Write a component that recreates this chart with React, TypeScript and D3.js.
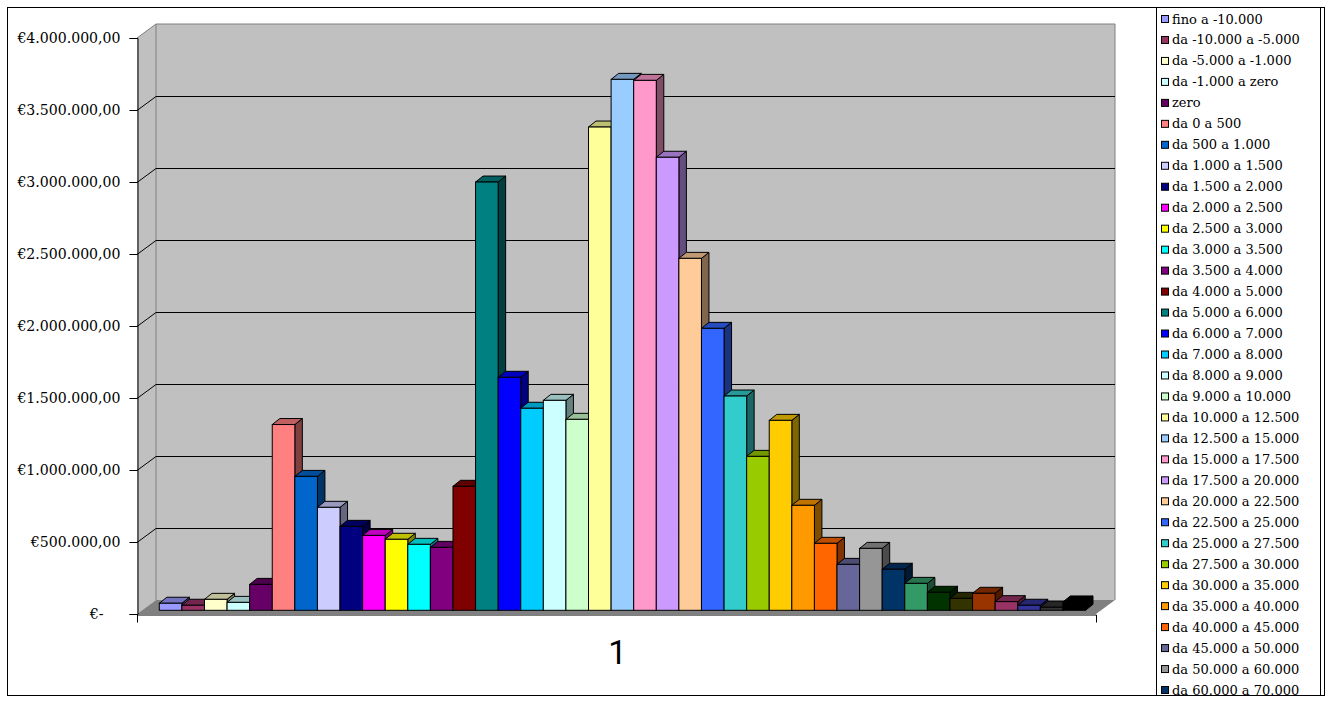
import React, { useEffect, useRef } from 'react';
import * as d3 from 'd3';

const WIDTH = 1332;
const HEIGHT = 702;

// Legend order. The legend is cut off after "da 60.000 a 70.000", so the last eight bars have no readable name.
const legendNames = [
  'fino a -10.000', 'da -10.000 a -5.000', 'da -5.000 a -1.000', 'da -1.000 a zero', 'zero',
  'da 0 a 500', 'da 500 a 1.000', 'da 1.000 a 1.500', 'da 1.500 a 2.000', 'da 2.000 a 2.500',
  'da 2.500 a 3.000', 'da 3.000 a 3.500', 'da 3.500 a 4.000', 'da 4.000 a 5.000', 'da 5.000 a 6.000',
  'da 6.000 a 7.000', 'da 7.000 a 8.000', 'da 8.000 a 9.000', 'da 9.000 a 10.000', 'da 10.000 a 12.500',
  'da 12.500 a 15.000', 'da 15.000 a 17.500', 'da 17.500 a 20.000', 'da 20.000 a 22.500', 'da 22.500 a 25.000',
  'da 25.000 a 27.500', 'da 27.500 a 30.000', 'da 30.000 a 35.000', 'da 35.000 a 40.000', 'da 40.000 a 45.000',
  'da 45.000 a 50.000', 'da 50.000 a 60.000', 'da 60.000 a 70.000',
];

const values = [
  49000, 35000, 76000, 55000, 180000, 1290000, 930000, 715000, 583000, 520000,
  493000, 458000, 437000, 861000, 2974000, 1618000, 1403000, 1458000, 1326000, 3356000,
  3687000, 3680000, 3146000, 2444000, 1958000, 1488000, 1069000, 1319000, 729000, 465000,
  319000, 430000, 285000, 187000, 125000, 83000, 118000, 60000, 35000, 21000, 58000,
];

const colors = [
  '#9999FF', '#993366', '#FFFFCC', '#CCFFFF', '#660066', '#FF8080', '#0066CC', '#CCCCFF', '#000080',
  '#FF00FF', '#FFFF00', '#00FFFF', '#800080', '#800000', '#008080', '#0000FF', '#00CCFF', '#CCFFFF',
  '#CCFFCC', '#FFFF99', '#99CCFF', '#FF99CC', '#CC99FF', '#FFCC99', '#3366FF', '#33CCCC', '#99CC00',
  '#FFCC00', '#FF9900', '#FF6600', '#666699', '#969696', '#003366', '#339966', '#003300', '#333300',
  '#993300', '#993366', '#333399', '#333333', '#000000',
];

const yTicks = [0, 500000, 1000000, 1500000, 2000000, 2500000, 3000000, 3500000, 4000000];
const xLabels = ['1'];

const shade = (c: string, k: number) => {
  const rgb = d3.rgb(c);
  return d3.rgb(rgb.r * k, rgb.g * k, rgb.b * k).formatHex();
};

const formatEuro = (v: number) => {
  if (v === 0) return '€-';
  return '€' + d3.format(',')(v).replace(/,/g, '.') + ',00';
};

export default function App() {
  const svgRef = useRef<SVGSVGElement>(null);

  useEffect(() => {
    if (!svgRef.current) return;
    const svg = d3.select(svgRef.current);
    svg.selectAll('*').remove();

    const frontLeft = 137;
    const frontRight = 1096;
    const wallDx = 19;
    const wallDy = 14;
    const barDx = 7.5;
    const barDy = 6;

    const y = d3.scaleLinear().domain([0, 4000000]).range([614, 38]);
    const barY = d3.scaleLinear().domain([0, 4000000]).range([610.3, 34.3]);
    const x = d3.scaleBand<number>().domain(d3.range(values.length)).range([159.3, 1085.5]);
    const xAxisScale = d3.scaleBand<string>().domain(xLabels).range([frontLeft, frontRight]);
    const pts = (p: number[][]) => p.map(d => d.join(',')).join(' ');

    // outer frame
    svg.append('rect')
      .attr('x', 7.5).attr('y', 7.5)
      .attr('width', 1317).attr('height', 688)
      .attr('fill', '#fff').attr('stroke', '#000');

    // walls and floor
    svg.append('polygon')
      .attr('points', pts([[frontLeft, y(4000000)], [frontLeft + wallDx, y(4000000) - wallDy], [frontRight + wallDx, y(4000000) - wallDy],
        [frontRight + wallDx, y(0) - wallDy], [frontLeft + wallDx, y(0) - wallDy], [frontLeft, y(0)]]))
      .attr('fill', '#C0C0C0');
    svg.append('polygon')
      .attr('points', pts([[frontLeft, y(0)], [frontLeft + wallDx, y(0) - wallDy], [frontRight + wallDx, y(0) - wallDy], [frontRight, y(0)]]))
      .attr('fill', '#808080');
    svg.append('polyline')
      .attr('points', pts([[frontLeft, y(4000000)], [frontLeft + wallDx, y(4000000) - wallDy], [frontRight + wallDx, y(4000000) - wallDy], [frontRight + wallDx, y(0) - wallDy]]))
      .attr('fill', 'none').attr('stroke', '#808080');
    svg.append('line')
      .attr('x1', frontLeft + wallDx).attr('x2', frontLeft + wallDx)
      .attr('y1', y(4000000) - wallDy).attr('y2', y(0) - wallDy)
      .attr('stroke', '#808080');

    // gridlines
    yTicks.filter(t => t > 0 && t < 4000000).forEach(t => {
      svg.append('polyline')
        .attr('points', pts([[frontLeft, y(t) + 0.5], [frontLeft + wallDx, y(t) - wallDy + 0.5], [frontRight + wallDx, y(t) - wallDy + 0.5]]))
        .attr('fill', 'none').attr('stroke', '#000');
    });

    // bars, left to right so each one covers the side of the previous
    const bars = svg.append('g').attr('stroke', '#000').attr('stroke-width', 1).attr('stroke-linejoin', 'miter');
    values.forEach((v, i) => {
      const x0 = x(i) as number;
      const w = x.bandwidth();
      const top = barY(v);
      const base = barY(0);
      const bar = bars.append('g');
      bar.append('polygon')
        .attr('points', pts([[x0 + w, top], [x0 + w + barDx, top - barDy], [x0 + w + barDx, base - barDy], [x0 + w, base]]))
        .attr('fill', shade(colors[i], 0.5));
      bar.append('polygon')
        .attr('points', pts([[x0, top], [x0 + barDx, top - barDy], [x0 + w + barDx, top - barDy], [x0 + w, top]]))
        .attr('fill', shade(colors[i], 0.75));
      bar.append('rect')
        .attr('x', x0).attr('y', top)
        .attr('width', w).attr('height', base - top)
        .attr('fill', colors[i]);
    });

    // axes
    const yAxis = svg.append('g')
      .attr('transform', `translate(${frontLeft + 0.5},0)`)
      .call(d3.axisLeft(y).tickValues(yTicks).tickSize(8).tickPadding(9).tickFormat(d => formatEuro(+d)));
    yAxis.select('.domain').attr('stroke', '#000');
    yAxis.selectAll('text')
      .attr('font-family', '"DejaVu Serif", serif')
      .attr('font-size', 14.1)
      .attr('fill', '#000')
      .attr('dx', (d: any) => (d === 0 ? -17 : 0));

    const xAxis = svg.append('g')
      .attr('transform', `translate(0,${y(0) + 0.5})`)
      .call(d3.axisBottom(xAxisScale).tickSize(8).tickSizeOuter(8).tickPadding(18));
    xAxis.selectAll('.tick line').remove();
    xAxis.selectAll('text')
      .attr('font-family', 'Roboto, sans-serif')
      .attr('font-size', 33)
      .attr('fill', '#000')
      .attr('dx', 1);

    // legend, cut off by the bottom of the frame as in the original
    const clip = svg.append('clipPath').attr('id', 'legend-clip');
    clip.append('rect').attr('x', 1157).attr('y', 8).attr('width', 163).attr('height', 687);
    svg.append('rect')
      .attr('x', 1156.5).attr('y', 7.5)
      .attr('width', 164).attr('height', 688)
      .attr('fill', '#fff').attr('stroke', '#000');
    const legend = svg.append('g').attr('clip-path', 'url(#legend-clip)');
    const rowY = d3.scaleLinear().domain([0, 32]).range([19, 690]);
    legendNames.forEach((name, i) => {
      const row = legend.append('g').attr('transform', `translate(0,${rowY(i)})`);
      row.append('rect')
        .attr('x', 1161.5).attr('y', -3.5)
        .attr('width', 7).attr('height', 7)
        .attr('fill', colors[i]).attr('stroke', '#000');
      row.append('text')
        .attr('x', 1172).attr('y', 4.5)
        .attr('font-family', '"DejaVu Serif", serif')
        .attr('font-size', 13)
        .attr('fill', '#000')
        .text(name);
    });
  }, []);

  return (
    <svg
      ref={svgRef}
      width={WIDTH}
      height={HEIGHT}
      style={{ position: 'absolute', left: 0, top: 0, display: 'block' }}
    />
  );
}
